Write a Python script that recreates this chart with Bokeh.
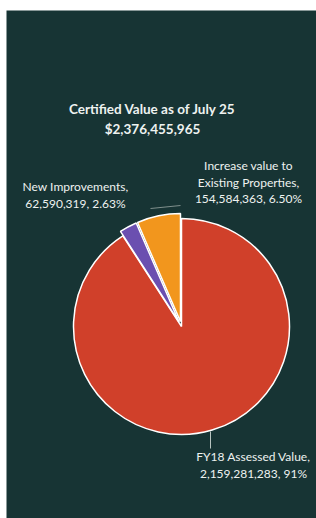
import numpy as np
from bokeh.plotting import figure
from bokeh.models import Range1d
from bokeh.core.properties import value
from bokeh.embed import file_html
from bokeh.resources import INLINE

# ---- data ----
title_lines = ["Certified Value as of July 25", "$2,376,455,965"]
names = ["FY18 Assessed Value", "New Improvements", "Increase value to\nExisting Properties"]
values = [2159281283, 62590319, 154584363]
pct_labels = ["91%", "2.63%", "6.50%"]
colors = ["#d0402a", "#6b4fb0", "#f2961d"]
explode = [0, 5, 5]

LEFT, TOP = 6, 10
W, H = 310, 508
BG = "#173434"
TXT = "#eef2f0"
FONT = "Lato"

p = figure(width=W + LEFT, height=H + TOP, output_backend="svg", toolbar_location=None,
           x_range=Range1d(0, W), y_range=Range1d(0, H),
           min_border=0, min_border_top=TOP, min_border_left=LEFT)
p.axis.visible = False
p.grid.visible = False
p.outline_line_color = None
p.background_fill_color = BG
p.border_fill_color = "white"

# pie geometry (data units = pixels)
cx, cy, r = 175, 192, 108
vals = np.array(values, dtype=float)
frac = vals / vals.sum()
# Excel-like: first slice starts at 12 o'clock, going clockwise
start_cw = np.pi / 2 - np.concatenate([[0], np.cumsum(frac)[:-1]]) * 2 * np.pi
end_cw = start_cw - frac * 2 * np.pi
mid = (start_cw + end_cw) / 2
xs = cx + np.array(explode) * np.cos(mid)
ys = cy + np.array(explode) * np.sin(mid)

p.wedge(x=xs, y=ys, radius=r, start_angle=end_cw, end_angle=start_cw,
        fill_color=colors, line_color="white", line_width=1.5)

# title
p.text(x=[146, 146], y=[410, 390], text=title_lines, text_font=value(FONT),
       text_font_style="bold", text_font_size="13.5px", text_color=TXT,
       text_align="center", text_baseline="middle")

# data labels
def lab(i):
    return f"{names[i]},\n{values[i]:,}, {pct_labels[i]}"

label_x = [247, 69, 242]
label_y_top = [62, 332, 353]
for i in range(3):
    lines = lab(i).split("\n")
    ys_l = [label_y_top[i] - 16.5 * k for k in range(len(lines))]
    p.text(x=[label_x[i]] * len(lines), y=ys_l, text=lines, text_font=value(FONT),
           text_font_size="12px", text_color=TXT, text_align="center",
           text_baseline="middle")

# leader lines
p.segment(x0=[204], y0=[87], x1=[204], y1=[70], line_color="#b8c4c0", line_width=1)
p.segment(x0=[144], y0=[310], x1=[174], y1=[313], line_color="#7f8f8c", line_width=1)

open("out.html", "w").write(file_html(p, INLINE))
